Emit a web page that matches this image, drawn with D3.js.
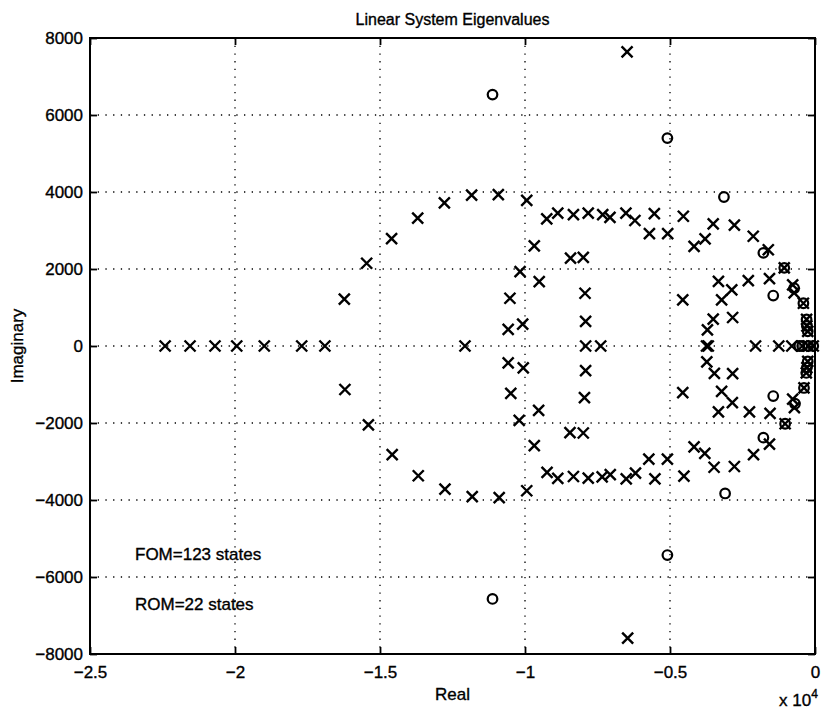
<!DOCTYPE html>
<html><head><meta charset="utf-8">
<script src="https://cdn.jsdelivr.net/npm/d3@7"></script>
<style>
body{margin:0;background:#fff}
text{font-family:"Liberation Sans",Arial,Helvetica,sans-serif;fill:#000;stroke:#000;stroke-width:0.35px}
</style>
</head><body>
<svg id="chart" width="823" height="714"></svg>
<script>
// ---- data ----
const chartTitle = "Linear System Eigenvalues";
const xLabel = "Real";
const yLabel = "Imaginary";
const xTicks = [-25000, -20000, -15000, -10000, -5000, 0];
const xTickLabels = ["\u22122.5", "\u22122", "\u22121.5", "\u22121", "\u22120.5", "0"];
const yTicks = [-8000, -6000, -4000, -2000, 0, 2000, 4000, 6000, 8000];
const yTickLabels = ["\u22128000", "\u22126000", "\u22124000", "\u22122000", "0", "2000", "4000", "6000", "8000"];
const annotations = ["FOM=123 states", "ROM=22 states"];

// FOM eigenvalues (x markers)
const fomReal = [
  -22410, -21550, -20690, -19940, -18990, -17700, -16900,
  -16230, -15460, -14600, -13700, -12780, -11840, -10920, -9940, -9250, -8870, -8330, -7820, -7320, -7070, -6520, -6210, -5540, -5710, -5080, -4540, -4170, -3790, -3510, -2780, -2130, -1610, -1060, -770, -720,
  -16210, -15400, -14580, -13680, -12760, -11820, -10890, -9940, -9240, -8870, -8330, -7820, -7340, -7060, -6510, -6190, -5520, -5730, -5090, -4520, -4170, -3800, -3480, -2780, -2120, -1570, -1030, -770, -710,
  -9680, -8430, -7990, -10170, -9510, -10520, -7930, -10580, -10080, -7910,
  -12070, -7910, -7390,
  -10580, -10060, -7910, -10490, -7950, -9530, -10200, -8450, -7990, -9680,
  -4560, -3330, -2870, -3220, -2300, -1570, -3510, -2840, -3710,
  -3740, -3680, -2050, -1250, -800,
  -3730, -3470, -2840, -4560, -3220, -2850, -3330, -2260, -1550,
  -6480, -6460,
  -400, -290, -280, -250, -440, -230, -60, -250, -280, -300, -380
];
const fomImag = [
  0, 0, 0, 0, 0, 0, 0,
  1220, 2150, 2790, 3320, 3720, 3920, 3930, 3780, 3300, 3450, 3410, 3450, 3410, 3340, 3450, 3260, 3440, 2920, 2920, 3370, 2590, 2780, 3170, 3140, 2850, 2500, 2030, 1590, 1380,
  -1130, -2050, -2820, -3370, -3720, -3910, -3940, -3760, -3280, -3440, -3390, -3430, -3400, -3340, -3450, -3300, -3450, -2940, -2940, -3380, -2620, -2790, -3150, -3130, -2820, -2550, -2020, -1380, -1600,
  2600, 2280, 2300, 1930, 1670, 1240, 1370, 430, 570, 640,
  0, 0, 0,
  -440, -570, -640, -1230, -1340, -1670, -1930, -2250, -2260, -2590,
  1200, 1680, 1460, 1200, 1700, 1750, 700, 740, 420,
  0, 0, 0, 0, 0,
  -410, -710, -720, -1210, -1180, -1470, -1710, -1710, -1750,
  7640, -7590,
  1110, 690, 520, 380, 0, 0, 0, -400, -560, -700, -1090
];

// ROM eigenvalues (o markers)
const romReal = [
  -11120, -11120, -5090, -5090, -3140, -3100, -1780, -1780, -1440, -1440, -1060, -1030, -720, -690, -540,
  -400, -290, -280, -250, -440, -230, -60, -250, -280, -300, -380
];
const romImag = [
  6530, -6570, 5400, -5430, 3870, -3830, 2420, -2380, 1310, -1300, 2030, -2020, 1500, -1500, 0,
  1110, 690, 520, 380, 0, 0, 0, -400, -560, -700, -1090
];

// ---- layout ----
const L = 90, R = 815, T = 38, B = 654;
const svg = d3.select("#chart");
const x = d3.scaleLinear().domain([-25000, 0]).range([L, R]);
const y = d3.scaleLinear().domain([-8000, 8000]).range([B, T]);

// grid
const grid = svg.append("g").attr("stroke", "#000").attr("stroke-width", 1.3)
  .attr("stroke-dasharray", "1.3,6.4").attr("fill", "none");
grid.selectAll("line.v").data(xTicks.slice(1, -1)).join("line")
  .attr("x1", d => x(d)).attr("x2", d => x(d)).attr("y1", T).attr("y2", B);
grid.selectAll("line.h").data(yTicks.slice(1, -1)).join("line")
  .attr("x1", L).attr("x2", R).attr("y1", d => y(d)).attr("y2", d => y(d));

// axes
const fontSize = 17;
function styleAxis(g) {
  g.selectAll(".domain").remove();
  g.selectAll(".tick line").attr("stroke", "#000").attr("stroke-width", 1.8);
  g.selectAll(".tick text").attr("font-size", fontSize).attr("fill", "#000")
    .attr("font-family", '"Liberation Sans",Arial,sans-serif');
}
svg.append("g").attr("transform", `translate(0,${B})`)
  .call(d3.axisBottom(x).tickValues(xTicks).tickFormat((d, i) => xTickLabels[i]).tickSizeInner(-7).tickSizeOuter(0).tickPadding(12))
  .call(styleAxis);
svg.append("g").attr("transform", `translate(0,${T})`)
  .call(d3.axisTop(x).tickValues(xTicks).tickFormat("").tickSizeInner(-7).tickSizeOuter(0))
  .call(styleAxis);
svg.append("g").attr("transform", `translate(${L},0)`)
  .call(d3.axisLeft(y).tickValues(yTicks).tickFormat((d, i) => yTickLabels[i]).tickSizeInner(-7).tickSizeOuter(0).tickPadding(7))
  .call(styleAxis);
svg.append("g").attr("transform", `translate(${R},0)`)
  .call(d3.axisRight(y).tickValues(yTicks).tickFormat("").tickSizeInner(-7).tickSizeOuter(0))
  .call(styleAxis);

// box
svg.append("rect").attr("x", L).attr("y", T).attr("width", R - L).attr("height", B - T)
  .attr("fill", "none").attr("stroke", "#000").attr("stroke-width", 2);

// markers
const fom = fomReal.map((r, i) => ({ r, im: fomImag[i] }));
const rom = romReal.map((r, i) => ({ r, im: romImag[i] }));
const s = 5.5;
svg.append("g").selectAll("path").data(fom).join("path")
  .attr("transform", d => `translate(${x(d.r)},${y(d.im)})`)
  .attr("d", `M${-s},${-s}L${s},${s}M${-s},${s}L${s},${-s}`)
  .attr("stroke", "#000").attr("stroke-width", 2.4).attr("fill", "none");
svg.append("g").selectAll("circle").data(rom).join("circle")
  .attr("cx", d => x(d.r)).attr("cy", d => y(d.im)).attr("r", 4.8)
  .attr("stroke", "#000").attr("stroke-width", 2.2).attr("fill", "none");

// texts
svg.append("text").attr("x", (L + R) / 2).attr("y", 25).attr("text-anchor", "middle")
  .attr("font-size", 16).text(chartTitle);
svg.append("text").attr("x", (L + R) / 2).attr("y", 700).attr("text-anchor", "middle")
  .attr("font-size", fontSize).text(xLabel);
svg.append("text").attr("transform", `translate(23,${(T + B) / 2}) rotate(-90)`)
  .attr("text-anchor", "middle").attr("font-size", fontSize).text(yLabel);
const mult = svg.append("text").attr("x", 779).attr("y", 706).attr("font-size", fontSize);
mult.append("tspan").text("x 10");
mult.append("tspan").attr("dy", -8).attr("font-size", 12).text("4");

svg.append("g").selectAll("text").data(annotations).join("text")
  .attr("x", 135).attr("y", (d, i) => [560, 610][i]).attr("font-size", fontSize).text(d => d);
</script>
</body></html>
